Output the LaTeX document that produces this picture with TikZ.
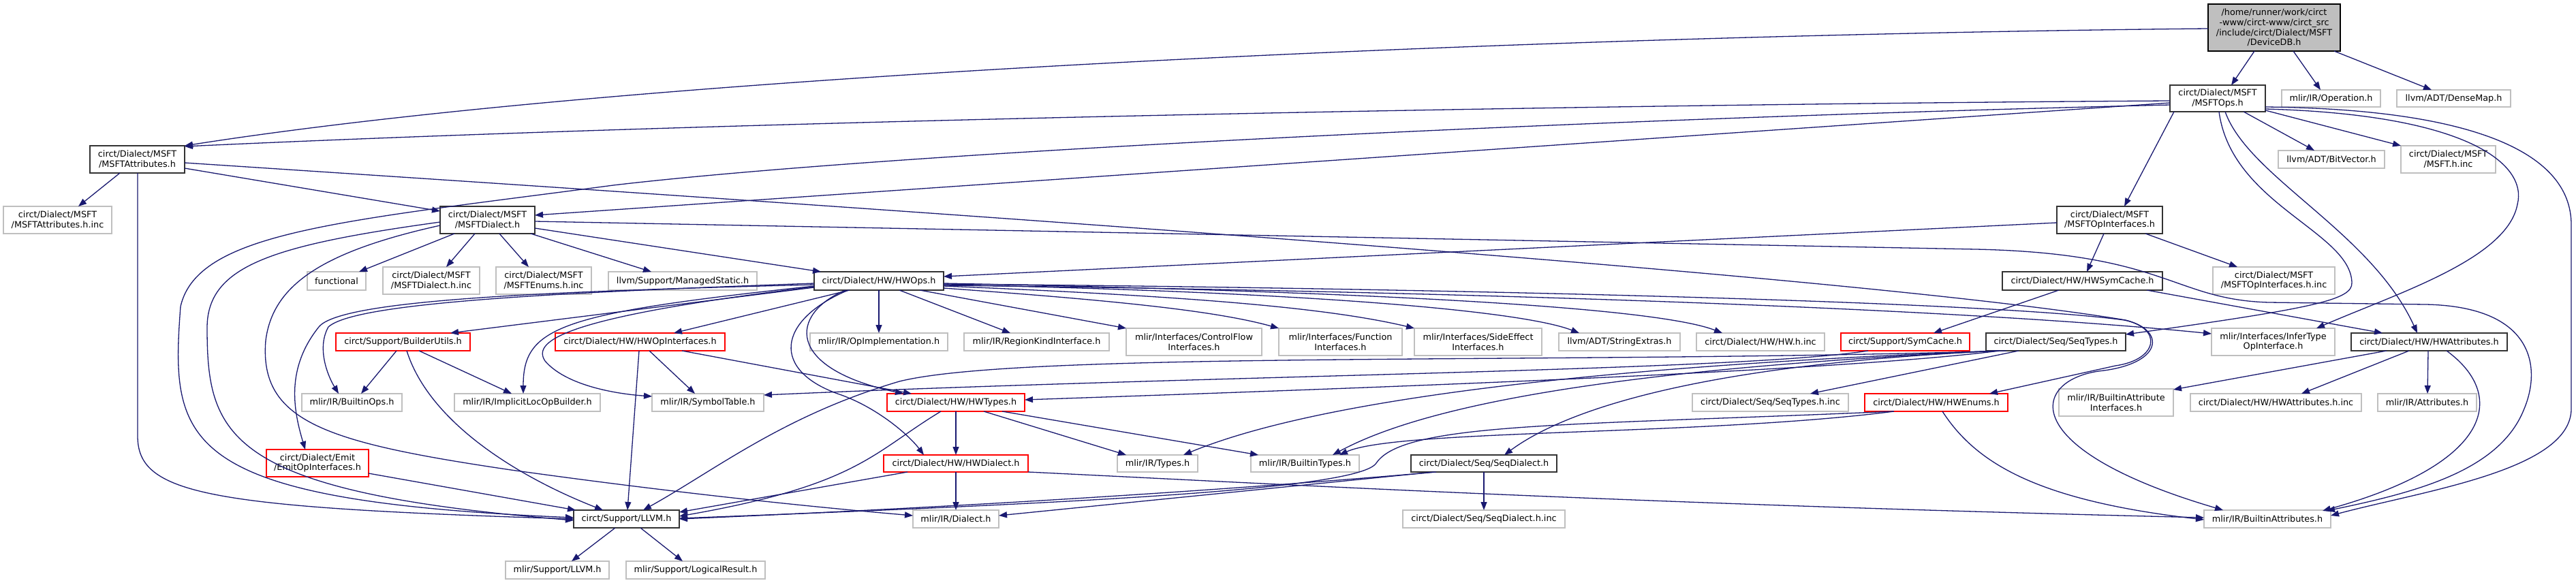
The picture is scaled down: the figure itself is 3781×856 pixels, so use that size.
\documentclass[tikz,border=0pt]{standalone}
\usepackage{fontspec}
\setmainfont{DejaVu Sans}
\usetikzlibrary{arrows.meta,calc}
\definecolor{edgec}{HTML}{191970}
\definecolor{grayb}{HTML}{BFBFBF}
\definecolor{redb}{HTML}{FF0000}
\definecolor{blackb}{HTML}{333333}
\definecolor{rootf}{HTML}{BFBFBF}
\newcommand\gn[7]{\node[#2, minimum width={(#5)-(#3)}, minimum height={(#6)-(#4)}] (#1) at ({((#3)+(#5))/2},{((#4)+(#6))/2}) {#7};}
\begin{document}
\begin{tikzpicture}[x=1pt,y=-1pt,
  nb/.style={draw, line width=1.5pt, inner sep=0pt, outer sep=0pt, align=center, font=\fontsize{12.8pt}{14.6pt}\selectfont},
  gb/.style={nb, draw=grayb},
  kb/.style={nb, draw=blackb},
  rb/.style={nb, draw=redb},
  rootb/.style={nb, draw=black, fill=rootf},
  dep/.style={draw=edgec, line width=1.3pt, -{Triangle[length=12pt,width=9pt]}}]
\fill[white] (0,0) rectangle (3781,856);
\useasboundingbox (0,0) rectangle (3781,856);
% nodes
\gn{R}{rootb}{3241}{6}{3435}{75}{/home/runner/work/circt\\-www/circt-www/circt\_src\\/include/circt/Dialect/MSFT\\/DeviceDB.h}
\gn{MO}{kb}{3185}{125}{3325}{164}{circt/Dialect/MSFT\\/MSFTOps.h}
\gn{OP}{gb}{3349}{132}{3494}{157}{mlir/IR/Operation.h}
\gn{DM}{gb}{3518}{132}{3685}{157}{llvm/ADT/DenseMap.h}
\gn{MA}{kb}{132}{214}{271}{254}{circt/Dialect/MSFT\\/MSFTAttributes.h}
\gn{BV}{gb}{3344}{221}{3500}{247}{llvm/ADT/BitVector.h}
\gn{MSI}{gb}{3524}{214}{3663}{254}{circt/Dialect/MSFT\\/MSFT.h.inc}
\gn{MAI}{gb}{5}{303}{164}{343}{circt/Dialect/MSFT\\/MSFTAttributes.h.inc}
\gn{MD}{kb}{646}{303}{785}{343}{circt/Dialect/MSFT\\/MSFTDialect.h}
\gn{MOI}{kb}{3019}{303}{3174}{343}{circt/Dialect/MSFT\\/MSFTOpInterfaces.h}
\gn{FN}{gb}{451}{399}{537}{426}{functional}
\gn{MDI}{gb}{562}{392}{704}{432}{circt/Dialect/MSFT\\/MSFTDialect.h.inc}
\gn{MEI}{gb}{728}{392}{868}{432}{circt/Dialect/MSFT\\/MSFTEnums.h.inc}
\gn{MS}{gb}{893}{399}{1111}{426}{llvm/Support/ManagedStatic.h}
\gn{HO}{kb}{1195}{399}{1385}{426}{circt/Dialect/HW/HWOps.h}
\gn{HSC}{kb}{2939}{399}{3174}{426}{circt/Dialect/HW/HWSymCache.h}
\gn{MOII}{gb}{3248}{392}{3427}{432}{circt/Dialect/MSFT\\/MSFTOpInterfaces.h.inc}
\gn{BU}{rb}{493}{489}{690}{515}{circt/Support/BuilderUtils.h}
\gn{HOI}{rb}{815}{489}{1064}{515}{circt/Dialect/HW/HWOpInterfaces.h}
\gn{OI}{gb}{1189}{489}{1391}{515}{mlir/IR/OpImplementation.h}
\gn{RK}{gb}{1415}{489}{1628}{515}{mlir/IR/RegionKindInterface.h}
\gn{CF}{gb}{1653}{482}{1852}{522}{mlir/Interfaces/ControlFlow\\Interfaces.h}
\gn{FI}{gb}{1877}{482}{2058}{522}{mlir/Interfaces/Function\\Interfaces.h}
\gn{SE}{gb}{2076}{482}{2263}{522}{mlir/Interfaces/SideEffect\\Interfaces.h}
\gn{SX}{gb}{2288}{489}{2466}{515}{llvm/ADT/StringExtras.h}
\gn{HWI}{gb}{2490}{489}{2678}{515}{circt/Dialect/HW/HW.h.inc}
\gn{SC}{rb}{2702}{489}{2891}{515}{circt/Support/SymCache.h}
\gn{ST}{kb}{2915}{489}{3120}{515}{circt/Dialect/Seq/SeqTypes.h}
\gn{IT}{gb}{3246}{482}{3427}{522}{mlir/Interfaces/InferType\\OpInterface.h}
\gn{HA}{kb}{3451}{489}{3680}{515}{circt/Dialect/HW/HWAttributes.h}
\gn{BO}{gb}{443}{578}{590}{604}{mlir/IR/BuiltinOps.h}
\gn{IL}{gb}{667}{578}{881}{604}{mlir/IR/ImplicitLocOpBuilder.h}
\gn{SYT}{gb}{957}{578}{1121}{604}{mlir/IR/SymbolTable.h}
\gn{HT}{rb}{1302}{578}{1504}{604}{circt/Dialect/HW/HWTypes.h}
\gn{STI}{gb}{2484}{578}{2713}{604}{circt/Dialect/Seq/SeqTypes.h.inc}
\gn{HE}{rb}{2737}{578}{2947}{604}{circt/Dialect/HW/HWEnums.h}
\gn{BAI}{gb}{3022}{571}{3190}{611}{mlir/IR/BuiltinAttribute\\Interfaces.h}
\gn{HAI}{gb}{3215}{578}{3466}{604}{circt/Dialect/HW/HWAttributes.h.inc}
\gn{AT}{gb}{3490}{578}{3635}{604}{mlir/IR/Attributes.h}
\gn{EOI}{rb}{391}{660}{541}{700}{circt/Dialect/Emit\\/EmitOpInterfaces.h}
\gn{HD}{rb}{1297}{668}{1509}{693}{circt/Dialect/HW/HWDialect.h}
\gn{TY}{gb}{1640}{668}{1758}{693}{mlir/IR/Types.h}
\gn{BT}{gb}{1836}{668}{1995}{693}{mlir/IR/BuiltinTypes.h}
\gn{SD}{kb}{2071}{668}{2285}{693}{circt/Dialect/Seq/SeqDialect.h}
\gn{L}{kb}{842}{749}{997}{775}{circt/Support/LLVM.h}
\gn{DI}{gb}{1340}{749}{1466}{775}{mlir/IR/Dialect.h}
\gn{SDI}{gb}{2059}{749}{2297}{775}{circt/Dialect/Seq/SeqDialect.h.inc}
\gn{BA}{gb}{3235}{749}{3421}{775}{mlir/IR/BuiltinAttributes.h}
\gn{ML}{gb}{742}{824}{894}{850}{mlir/Support/LLVM.h}
\gn{LR}{gb}{919}{824}{1123}{850}{mlir/Support/LogicalResult.h}
% edges from root
\draw[dep] ($(R)+(-29,34.5)$) -- ($(MO)+(20,-19.5)$);
\draw[dep] ($(R)+(28,34.5)$) -- ($(OP)+(-15.5,-12.5)$);
\draw[dep] ($(R)+(88,34.5)$) -- ($(DM)+(-32.5,-12.5)$);
\draw[dep] ($(R)+(-97,1.5)$) .. controls (2400,50) and (1000,100) .. ($(MA)+(69.5,-20)$);
% MSFTOps
\draw[dep] ($(MO)+(-70,3.5)$) .. controls (2500,152) and (1200,172) .. ($(MA)+(69.5,-19)$);
\draw[dep] ($(MO)+(-70,6.5)$) -- ($(MD)+(69.5,-7)$);
\draw[dep] ($(MO)+(-70,9.5)$) .. controls (2300,175) and (1300,225) .. (900,272) .. controls (500,325) and (290,340) .. (265,450) .. controls (250,650) and (260,735) .. ($(L)+(-77.5,-2)$);
\draw[dep] ($(MO)+(-64,19.5)$) -- ($(MOI)+(21.5,-20)$);
\draw[dep] ($(MO)+(38,19.5)$) -- ($(BV)+(-25,-13)$);
\draw[dep] ($(MO)+(70,17.5)$) -- ($(MSI)+(-69.5,-20)$);
\draw[dep] ($(MO)+(11,19.5)$) .. controls (3300,260) and (3480,340) .. ($(HA)+(-17.5,-13)$);
\draw[dep] ($(MO)+(2,19.5)$) .. controls (3275,300) and (3450,340) .. (3452,415) .. controls (3453,440) and (3400,452) .. ($(ST)+(102.5,-11)$);
\draw[dep] ($(MO)+(70,15.5)$) .. controls (3620,168) and (3710,240) .. (3695,300) .. controls (3680,380) and (3520,430) .. ($(IT)+(63.5,-20)$);
\draw[dep] ($(MO)+(70,12.5)$) .. controls (3620,160) and (3774,220) .. (3774,330) -- (3774,600) .. controls (3774,690) and (3560,720) .. ($(BA)+(93,-5)$);
% MSFTAttributes
\draw[dep] ($(MA)+(-25.5,20)$) -- ($(MAI)+(30.5,-20)$);
\draw[dep] ($(MA)+(69.5,13)$) -- ($(MD)+(-69.5,-13)$);
\draw[dep] ($(MA)+(0.5,20)$) -- (202,640) .. controls (202,725) and (300,745) .. ($(L)+(-77.5,0)$);
\draw[dep] ($(MA)+(69.5,5)$) .. controls (1200,300) and (2700,400) .. (3120,470) .. controls (3180,485) and (3175,535) .. (3080,545) .. controls (2980,560) and (2960,660) .. ($(BA)+(-65,-13)$);
% MSFTDialect
\draw[dep] ($(MD)+(-48.5,20)$) -- ($(FN)+(33,-13.5)$);
\draw[dep] ($(MD)+(-18.5,20)$) -- ($(MDI)+(22,-20)$);
\draw[dep] ($(MD)+(17.5,20)$) -- ($(MEI)+(-22,-20)$);
\draw[dep] ($(MD)+(63.5,20)$) -- ($(MS)+(-46,-13.5)$);
\draw[dep] ($(MD)+(69.5,12)$) -- ($(HO)+(-85,-13.5)$);
\draw[dep] ($(MD)+(-69.5,3)$) .. controls (400,360) and (305,390) .. (304,480) .. controls (304,640) and (330,722) .. ($(L)+(-77.5,2)$);
\draw[dep] ($(MD)+(-69.5,8)$) .. controls (470,370) and (400,420) .. (390,500) .. controls (380,620) and (480,650) .. (750,690) .. controls (1000,725) and (1200,745) .. ($(DI)+(-63,-5)$);
\draw[dep] ($(MD)+(69.5,2)$) -- (2900,366) .. controls (3180,372) and (3190,440) .. (3330,444) -- (3560,447) .. controls (3720,450) and (3730,540) .. (3705,600) .. controls (3670,690) and (3550,722) .. ($(BA)+(87,-12)$);
% MSFTOpInterfaces, HWSymCache
\draw[dep] ($(MOI)+(-77.5,4)$) -- ($(HO)+(95,-6.5)$);
\draw[dep] ($(MOI)+(-8.5,20)$) -- ($(HSC)+(6.5,-13.5)$);
\draw[dep] ($(MOI)+(52.5,20)$) -- ($(MOII)+(-53.5,-20)$);
\draw[dep] ($(HSC)+(-34.5,13.5)$) -- ($(SC)+(41.5,-13)$);
\draw[dep] ($(HSC)+(94.5,13.5)$) -- ($(HA)+(-68.5,-13)$);
% HWOps
\draw[dep] ($(HO)+(-95,9.5)$) -- ($(BU)+(69.5,-13)$);
\draw[dep] ($(HO)+(-43,13.5)$) -- ($(HOI)+(49.5,-13)$);
\draw[dep] ($(HO)+(-95,3.5)$) .. controls (800,430) and (520,445) .. (482,480) .. controls (465,510) and (480,550) .. ($(BO)+(-19.5,-13)$);
\draw[dep] ($(HO)+(-95,5.5)$) .. controls (800,428) and (500,440) .. (468,480) .. controls (420,540) and (430,600) .. ($(EOI)+(-18,-20)$);
\draw[dep] ($(HO)+(-95,7.5)$) .. controls (820,460) and (768,480) .. ($(IL)+(-6,-13)$);
\draw[dep] ($(HO)+(-95,8.5)$) .. controls (830,465) and (780,500) .. (800,530) .. controls (830,565) and (900,578) .. ($(SYT)+(-82,-9)$);
\draw[dep] (HO.south) -- (OI.north);
\draw[dep] ($(HO)+(30,13.5)$) -- ($(RK)+(-38.5,-13)$);
\draw[dep] ($(HO)+(60,13.5)$) -- ($(CF)+(-99.5,-20)$);
\draw[dep] ($(HO)+(95,10.5)$) .. controls (1620,440) and (1780,455) .. ($(FI)+(-90.5,-20)$);
\draw[dep] ($(HO)+(95,7.5)$) .. controls (1750,435) and (1950,452) .. ($(SE)+(-93.5,-20)$);
\draw[dep] ($(HO)+(95,5.5)$) .. controls (1900,428) and (2230,455) .. ($(SX)+(-59,-13)$);
\draw[dep] ($(HO)+(95,3.5)$) .. controls (2100,430) and (2440,455) .. ($(HWI)+(-56,-13)$);
\draw[dep] ($(HO)+(-49,13.5)$) .. controls (1160,460) and (1150,540) .. ($(HT)+(-77,-13)$);
\draw[dep] ($(HO)+(-45,13.5)$) .. controls (1140,470) and (1130,545) .. (1235,580) .. controls (1290,600) and (1335,640) .. ($(HD)+(-47,-12.5)$);
\draw[dep] ($(HO)+(95,6.5)$) .. controls (2200,428) and (2900,455) .. ($(IT)+(-90.5,-12)$);
\draw[dep] ($(HO)+(95,4.5)$) .. controls (2000,422) and (2900,440) .. (3118,470) .. controls (3175,482) and (3168,528) .. (3105,537) -- ($(HE)+(78,-13)$);
% HWOpInterfaces, BuilderUtils, EmitOpInterfaces
\draw[dep] ($(HOI)+(13.5,13)$) -- ($(SYT)+(-19,-13)$);
\draw[dep] ($(HOI)+(61.5,13)$) -- ($(HT)+(-65,-13)$);
\draw[dep] ($(HOI)+(-1.5,13)$) -- ($(L)+(1.5,-13)$);
\draw[dep] ($(BU)+(-9.5,13)$) -- ($(BO)+(13.5,-13)$);
\draw[dep] ($(BU)+(23.5,13)$) -- ($(IL)+(-23,-13)$);
\draw[dep] ($(BU)+(5.5,13)$) .. controls (630,620) and (760,700) .. ($(L)+(-34.5,-13)$);
\draw[dep] ($(EOI)+(75,15)$) -- ($(L)+(-74.5,-13)$);
% HWTypes, HWDialect
\draw[dep] (HT.south) -- (HD.north);
\draw[dep] ($(HT)+(-22,13)$) .. controls (1280,665) and (1260,712) .. ($(L)+(77.5,-4)$);
\draw[dep] ($(HT)+(41,13)$) -- ($(TY)+(-46,-12.5)$);
\draw[dep] ($(HT)+(68,13)$) -- ($(BT)+(-68.5,-12.5)$);
\draw[dep] ($(HD)+(-71,12.5)$) -- ($(L)+(77.5,-10)$);
\draw[dep] (HD.south) -- (DI.north);
\draw[dep] ($(HD)+(106,12.5)$) .. controls (1900,712) and (2400,740) .. ($(BA)+(-93,-2)$);
% SymCache, SeqTypes
\draw[dep] ($(SC)+(-54.5,13)$) .. controls (2550,545) and (1800,550) .. ($(SYT)+(82,-11)$);
\draw[dep] ($(ST)+(-72.5,13)$) .. controls (2300,535) and (1500,515) .. (1320,560) .. controls (1150,610) and (1050,690) .. ($(L)+(24.5,-13)$);
\draw[dep] ($(ST)+(-82.5,13)$) .. controls (2700,545) and (2000,570) .. ($(HT)+(101,-4)$);
\draw[dep] ($(ST)+(-82.5,13)$) .. controls (2400,535) and (1950,580) .. ($(TY)+(38,-12.5)$);
\draw[dep] ($(ST)+(-82.5,13)$) .. controls (2400,540) and (2100,590) .. ($(BT)+(40.5,-12.5)$);
\draw[dep] ($(ST)+(-82.5,13)$) .. controls (2500,535) and (2300,600) .. ($(SD)+(30,-12.5)$);
\draw[dep] ($(ST)+(-54.5,13)$) -- ($(STI)+(58.5,-13)$);
% HWEnums
\draw[dep] ($(HE)+(-62,13)$) .. controls (2500,640) and (2050,630) .. ($(BT)+(50.5,-12.5)$);
\draw[dep] ($(HE)+(-63,13)$) .. controls (2300,625) and (2060,620) .. (2020,680) .. controls (1995,718) and (1600,738) .. ($(L)+(77.5,-1)$);
\draw[dep] ($(HE)+(9,13)$) .. controls (2900,680) and (2990,735) .. ($(BA)+(-93,1)$);
% SeqDialect
\draw[dep] (SD.south) -- (SDI.north);
\draw[dep] ($(SD)+(-70,12.5)$) .. controls (1800,720) and (1400,745) .. ($(L)+(77.5,0)$);
\draw[dep] ($(SD)+(-73,12.5)$) -- ($(DI)+(63,-5)$);
% HWAttributes
\draw[dep] ($(HA)+(-62.5,13)$) -- ($(BAI)+(84,-19)$);
\draw[dep] ($(HA)+(-29.5,13)$) -- ($(HAI)+(37.5,-13)$);
\draw[dep] ($(HA)+(-1.5,13)$) -- ($(AT)+(0.5,-13)$);
\draw[dep] ($(HA)+(25.5,13)$) .. controls (3680,580) and (3660,680) .. ($(BA)+(81,-12)$);
% LLVM.h
\draw[dep] ($(L)+(-16.5,13)$) -- ($(ML)+(21,-13)$);
\draw[dep] ($(L)+(20.5,13)$) -- ($(LR)+(-19,-13)$);
\end{tikzpicture}
\end{document}
